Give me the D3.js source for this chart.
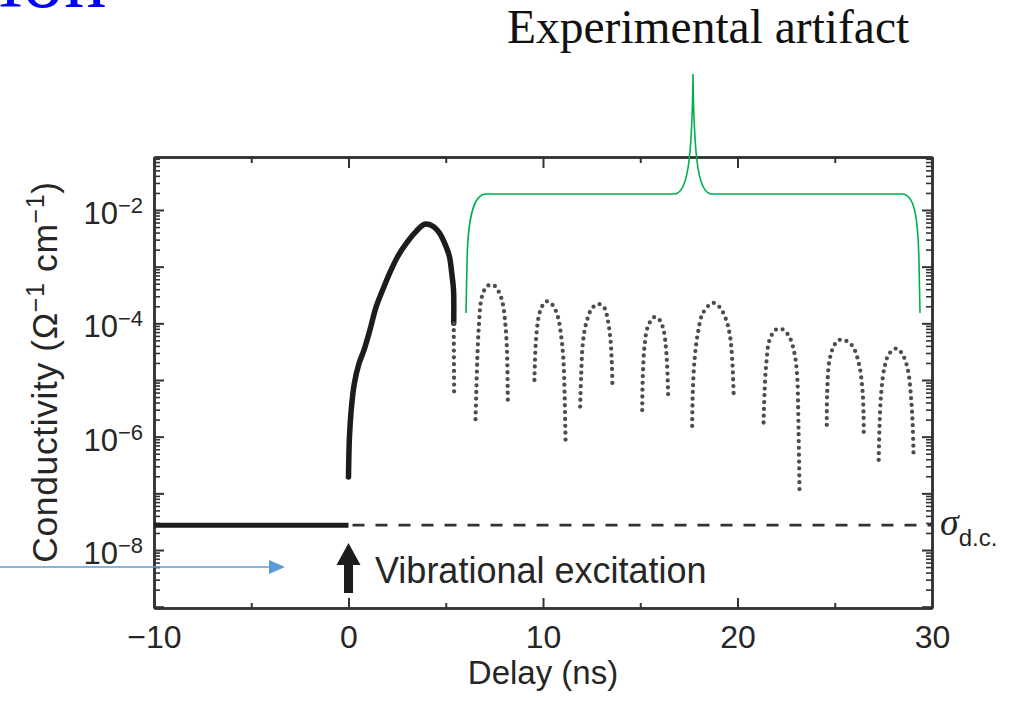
<!DOCTYPE html>
<html><head><meta charset="utf-8">
<script src="https://cdn.jsdelivr.net/npm/d3@7"></script>
<style>body{margin:0;background:#fff;} svg{display:block;}</style>
</head><body>
<svg id="c" width="1009" height="702"></svg>
<script>
// ---------- data ----------
const delayMajorTicks = [-10, 0, 10, 20, 30];
const delayMinorTicks = [-5, 5, 15, 25];
const sigmaLabelExponents = [-2, -4, -6, -8];
const sigmaDecadeExponents = [-9, -8, -7, -6, -5, -4, -3, -2];
const sigmaDC = 2.75e-8;
const baselineDelay = [-10, 0];
const dcDashedDelay = [0, 30];

const riseDelay = [0.0, 0.05, 0.14, 0.3, 0.54, 0.8, 1.1, 1.42, 1.76, 2.11, 2.53, 2.97, 3.48, 3.91, 4.33, 4.68, 5.02, 5.19, 5.33, 5.40, 5.41];
const riseSigma = [1.95e-7, 1.0e-6, 2.95e-6, 8.7e-6, 1.95e-5, 3.4e-5, 7.6e-5, 1.95e-4, 3.9e-4, 7.6e-4, 1.51e-3, 2.57e-3, 4.2e-3, 5.6e-3, 5.2e-3, 3.9e-3, 2.24e-3, 1.51e-3, 6.6e-4, 3.9e-4, 1.0e-4];
const tailDelay = [5.41, 5.43];
const tailSigma = [1.0e-4, 5.9e-6];

const arc1Delay = [6.53, 6.57, 6.62, 6.70, 6.82, 6.99, 7.21, 7.51, 7.76, 7.93, 8.06, 8.14, 8.17, 8.19];
const arc1Sigma = [2.04e-6, 5.9e-6, 2.24e-5, 8.7e-5, 2.57e-4, 3.9e-4, 4.7e-4, 4.6e-4, 3.4e-4, 2.24e-4, 1.0e-4, 3.9e-5, 1.51e-5, 4.5e-6];
const arc2Delay = [9.56, 9.65, 9.82, 9.99, 10.20, 10.50, 10.76, 10.94, 11.05, 11.11, 11.16];
const arc2Sigma = [1.0e-5, 5.75e-5, 1.51e-4, 2.09e-4, 2.45e-4, 2.09e-4, 1.32e-4, 5.75e-5, 2.24e-5, 5.9e-6, 8.1e-7];
const arc3Delay = [11.91, 11.96, 12.05, 12.22, 12.53, 12.87, 13.16, 13.33, 13.47, 13.54, 13.57];
const arc3Sigma = [3.4e-6, 1.15e-5, 4.5e-5, 1.0e-4, 1.86e-4, 2.19e-4, 1.86e-4, 1.15e-4, 5.1e-5, 1.95e-5, 7.6e-6];
const arc4Delay = [15.10, 15.13, 15.22, 15.39, 15.73, 15.99, 16.20, 16.33, 16.40, 16.44];
const arc4Sigma = [2.95e-6, 1.15e-5, 3.9e-5, 8.7e-5, 1.29e-4, 1.15e-4, 7.6e-5, 3.4e-5, 1.32e-5, 4.5e-6];
const arc5Delay = [17.67, 17.70, 17.79, 17.96, 18.22, 18.73, 19.07, 19.42, 19.62, 19.73, 19.81];
const arc5Sigma = [1.55e-6, 5.9e-6, 2.24e-5, 6.6e-5, 1.51e-4, 2.29e-4, 1.95e-4, 1.15e-4, 5.75e-5, 2.24e-5, 4.6e-6];
const arc6Delay = [21.34, 21.39, 21.48, 21.65, 21.99, 22.33, 22.67, 22.93, 23.07, 23.12, 23.15, 23.19];
const arc6Sigma = [1.78e-6, 5.9e-6, 1.95e-5, 5.1e-5, 7.8e-5, 7.8e-5, 5.75e-5, 2.95e-5, 1.15e-5, 2.95e-6, 7.6e-7, 1.07e-7];
const arc7Delay = [24.59, 24.61, 24.73, 24.99, 25.24, 25.59, 25.93, 26.24, 26.41, 26.48, 26.49];
const arc7Sigma = [1.62e-6, 5.9e-6, 2.24e-5, 4.2e-5, 5.1e-5, 4.9e-5, 3.9e-5, 1.95e-5, 7.6e-6, 2.57e-6, 9.3e-7];
const arc8Delay = [27.26, 27.30, 27.39, 27.56, 27.81, 28.19, 28.50, 28.76, 28.93, 29.01, 29.05];
const arc8Sigma = [3.9e-7, 1.51e-6, 5.9e-6, 1.7e-5, 2.95e-5, 3.6e-5, 2.75e-5, 1.51e-5, 4.5e-6, 1.51e-6, 5.1e-7];

const xAxisTitle = "Delay (ns)";
const annotationText = "Vibrational excitation";
const artifactText = "Experimental artifact";

// ---------- drawing ----------
const svg = d3.select("#c");
const SANS = "'Liberation Sans', Arial, Helvetica, sans-serif";
const SERIF = "'Liberation Serif', 'Times New Roman', serif";
const ink = "#262626";

const x = d3.scaleLinear().domain([-10, 30]).range([154, 932]);
const y = d3.scaleLog().domain([Math.pow(10, -9.023), Math.pow(10, -1.065)]).range([608, 157]);

const zip = (a, b) => a.map((d, i) => [d, b[i]]);
const decadeVals = sigmaDecadeExponents.map(e => Math.pow(10, e));
const minorVals = [];
sigmaDecadeExponents.concat([-1]).forEach(e => {
  for (let k = 2; k <= 9; k++) {
    const v = k * Math.pow(10, e - 1);
    if (v > y.domain()[0] && v < y.domain()[1]) minorVals.push(v);
  }
});

// top-left clipped blue title fragment
svg.append("text").attr("x", 106).attr("y", 7).attr("text-anchor", "end")
  .attr("font-family", SERIF).attr("font-size", 84).attr("fill", "#0000ff").text("tion");

// axes
function styleAxis(g) {
  g.selectAll(".domain").attr("stroke", "#333").attr("stroke-width", 2.5);
  g.selectAll(".tick line").attr("stroke", "#333").attr("stroke-width", 2);
}
const fmt = d => d < 0 ? "\u2212" + Math.abs(d) : String(d);

const gb = svg.append("g").attr("transform", "translate(0,608)")
  .call(d3.axisBottom(x).tickValues(delayMajorTicks).tickSize(-10).tickSizeOuter(0).tickPadding(17).tickFormat(fmt));
styleAxis(gb);
gb.selectAll("text").attr("font-family", SANS).attr("font-size", 32).attr("fill", ink);
const gbm = svg.append("g").attr("transform", "translate(0,608)")
  .call(d3.axisBottom(x).tickValues(delayMinorTicks).tickSize(-5).tickSizeOuter(0).tickFormat(""));
styleAxis(gbm);

const gt = svg.append("g").attr("transform", "translate(0,157)")
  .call(d3.axisTop(x).tickValues(delayMajorTicks).tickSize(-11).tickSizeOuter(0).tickFormat(""));
styleAxis(gt);
const gtm = svg.append("g").attr("transform", "translate(0,157)")
  .call(d3.axisTop(x).tickValues(delayMinorTicks).tickSize(-6).tickSizeOuter(0).tickFormat(""));
styleAxis(gtm);

const gl = svg.append("g").attr("transform", "translate(154,0)")
  .call(d3.axisLeft(y).tickValues(decadeVals).tickSize(-10).tickSizeOuter(0).tickFormat(""));
styleAxis(gl);
const glm = svg.append("g").attr("transform", "translate(154,0)")
  .call(d3.axisLeft(y).tickValues(minorVals).tickSize(-6).tickSizeOuter(0).tickFormat(""));
styleAxis(glm);
glm.selectAll(".tick line").attr("stroke-width", 1.6);

const gr = svg.append("g").attr("transform", "translate(932,0)")
  .call(d3.axisRight(y).tickValues(decadeVals).tickSize(-10).tickSizeOuter(0).tickFormat(""));
styleAxis(gr);
const grm = svg.append("g").attr("transform", "translate(932,0)")
  .call(d3.axisRight(y).tickValues(minorVals).tickSize(-6).tickSizeOuter(0).tickFormat(""));
styleAxis(grm);
grm.selectAll(".tick line").attr("stroke-width", 1.6);

// y tick labels 10^n
sigmaLabelExponents.forEach(e => {
  const t = svg.append("text").attr("x", 143).attr("y", y(Math.pow(10, e)) + 14)
    .attr("text-anchor", "end").attr("font-family", SANS).attr("fill", ink);
  t.append("tspan").attr("font-size", 31).text("10");
  t.append("tspan").attr("font-size", 22).attr("dy", -11).text("\u2212" + Math.abs(e));
});

// axis titles
svg.append("text").attr("x", (x(-10) + x(30)) / 2).attr("y", 684).attr("text-anchor", "middle")
  .attr("font-family", SANS).attr("font-size", 33).attr("fill", ink).text(xAxisTitle);

const yt = svg.append("text").attr("transform", "translate(57,372) rotate(-90)")
  .attr("text-anchor", "middle").attr("font-family", SANS).attr("font-size", 35.5)
  .attr("letter-spacing", 0.6).attr("fill", ink);
yt.append("tspan").text("Conductivity (\u03A9");
yt.append("tspan").attr("font-size", 25).attr("dy", -13).text("\u22121");
yt.append("tspan").attr("dy", 13).text(" cm");
yt.append("tspan").attr("font-size", 25).attr("dy", -13).text("\u22121");
yt.append("tspan").attr("dy", 13).text(")");

// dc level
const lineGen = d3.line().x(d => x(d[0])).y(d => y(d[1]));
svg.append("path").datum(zip(baselineDelay, baselineDelay.map(() => sigmaDC)))
  .attr("d", lineGen).attr("stroke", "#1e1e1e").attr("stroke-width", 5).attr("fill", "none");
svg.append("path").datum(zip(dcDashedDelay, dcDashedDelay.map(() => sigmaDC)))
  .attr("d", lineGen).attr("stroke", "#333").attr("stroke-width", 2.6).attr("fill", "none")
  .attr("stroke-dasharray", "12 11").attr("stroke-dashoffset", -4);

// main rise
const curveGen = d3.line().x(d => x(d[0])).y(d => y(d[1])).curve(d3.curveCatmullRom.alpha(0.5));
svg.append("path").datum(zip(riseDelay, riseSigma)).attr("d", curveGen)
  .attr("fill", "none").attr("stroke", "#1c1c1c").attr("stroke-width", 5.5)
  .attr("stroke-linecap", "round").attr("stroke-linejoin", "round");

// dotted arcs
const dotted = [
  zip(tailDelay, tailSigma), zip(arc1Delay, arc1Sigma), zip(arc2Delay, arc2Sigma), zip(arc3Delay, arc3Sigma),
  zip(arc4Delay, arc4Sigma), zip(arc5Delay, arc5Sigma), zip(arc6Delay, arc6Sigma),
  zip(arc7Delay, arc7Sigma), zip(arc8Delay, arc8Sigma)
];
svg.append("g").selectAll("path").data(dotted).join("path").attr("d", curveGen)
  .attr("fill", "none").attr("stroke", "#4d4d4d").attr("stroke-width", 4.3)
  .attr("stroke-linecap", "round").attr("stroke-dasharray", "0 6.8");

// sigma d.c. label
const sl = svg.append("text").attr("x", 940).attr("y", 535).attr("fill", ink);
sl.append("tspan").attr("font-family", SERIF).attr("font-style", "italic").attr("font-size", 38).text("\u03C3");
sl.append("tspan").attr("font-family", SANS).attr("font-size", 24).attr("dy", 11).attr("dx", 0).text("d.c.");

// vibrational excitation arrow
const ax = x(0);
svg.append("path").attr("d",
  `M${ax - 4.5},593 L${ax - 4.5},565 L${ax - 12},565 L${ax},543 L${ax + 12},565 L${ax + 4.5},565 L${ax + 4.5},593 Z`)
  .attr("fill", "#1c1c1c");
svg.append("text").attr("x", 375).attr("y", 583).attr("font-family", SANS).attr("font-size", 36)
  .attr("fill", ink).text(annotationText);

// blue pointer arrow
svg.append("line").attr("x1", 0).attr("y1", 567).attr("x2", 272).attr("y2", 567)
  .attr("stroke", "#5b9bd5").attr("stroke-width", 1.5);
svg.append("path").attr("d", "M269,560 L285,567 L269,574 Z").attr("fill", "#5b9bd5");

// green bracket + label
svg.append("path").attr("d",
  "M466,313 L467,262 C468,215 474,194 486,194 L674,194 C687,194 692,165 693,74 " +
  "C694,165 699,194 712,194 L902,194 C914,194 918,215 919,262 L920,313")
  .attr("fill", "none").attr("stroke", "#00b050").attr("stroke-width", 1.6);
svg.append("text").attr("x", 507).attr("y", 43).attr("font-family", SERIF).attr("font-size", 47.5)
  .attr("fill", "#111").text(artifactText);
</script>
</body></html>
